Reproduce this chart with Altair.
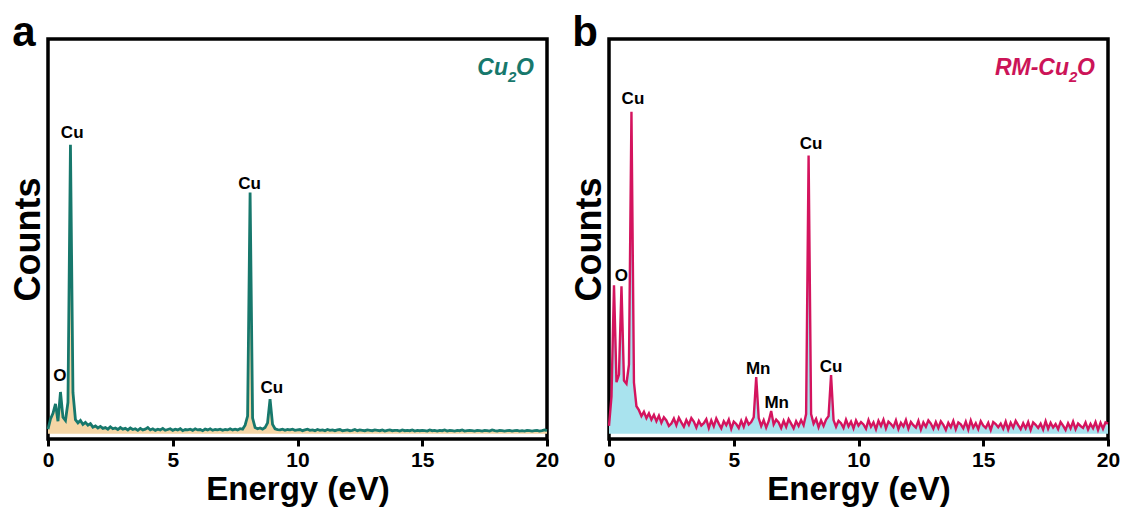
import altair as alt
import pandas as pd

# Energy sampling grid (keV shown as "eV" on the axis, as in the original)
energy = [i / 10 for i in range(201)]

# Panel a: Cu2O spectrum (relative counts)
counts_a = [
    1.2, 3.8, 5.2, 7.6, 3.2, 10.6, 4.2, 3.4, 8.0, 73.2,
    10.5, 3.6, 2.8, 3.4, 2.4, 2.9, 2.2, 2.6, 1.7, 2.0,
    1.5, 1.9, 1.4, 1.6, 1.2, 1.8, 1.3, 1.5, 1.1, 1.6,
    1.2, 1.4, 1.0, 1.5, 1.1, 1.3, 0.9, 1.4, 1.0, 1.2,
    1.6, 1.0, 1.3, 0.9, 1.2, 1.0, 1.4, 0.9, 1.1, 1.3,
    0.9, 1.2, 1.0, 1.3, 0.8, 1.1, 1.0, 1.2, 0.9, 1.3,
    1.0, 1.1, 0.8, 1.2, 1.0, 1.3, 0.9, 1.1, 1.0, 1.2,
    0.9, 1.1, 1.0, 1.3, 1.0, 1.2, 1.0, 1.3, 1.2, 2.2,
    4.5, 61.1, 4.0, 1.6, 1.3, 1.5, 1.2, 1.6, 2.8, 8.8,
    2.4, 1.3, 1.1, 1.0, 1.2, 0.9, 1.1, 1.0, 1.2, 0.9,
    1.0, 1.1, 0.8, 1.0, 1.2, 0.9, 1.0, 0.8, 1.1, 0.9,
    1.0, 0.8, 1.1, 0.9, 1.0, 0.8, 1.0, 1.1, 0.8, 0.9,
    1.0, 0.8, 0.9, 1.1, 0.8, 1.0, 0.9, 0.8, 1.0, 0.9,
    0.8, 1.0, 0.9, 0.8, 1.0, 0.7, 0.9, 1.0, 0.8, 0.9,
    0.9, 0.7, 1.0, 0.8, 0.9, 0.8, 1.0, 0.7, 0.9, 0.8,
    0.9, 0.8, 0.7, 1.0, 0.8, 0.9, 0.7, 0.9, 0.8, 1.0,
    0.7, 0.9, 0.8, 0.7, 0.9, 0.8, 1.0, 0.7, 0.8, 0.9,
    0.8, 0.7, 0.9, 0.8, 0.7, 0.9, 0.8, 0.7, 1.0, 0.8,
    0.7, 0.9, 0.8, 0.7, 0.8, 0.9, 0.7, 0.8, 0.9, 0.7,
    0.8, 0.7, 0.9, 0.8, 0.7, 0.8, 0.9, 0.7, 0.8, 1.0,
    0.8,
]

# Panel b: RM-Cu2O spectrum
counts_b = [
    2.0, 9.5, 37.6, 13.1, 15.0, 37.4, 13.5, 12.7, 17.5, 81.6,
    13.0, 7.0, 6.0, 4.5, 5.6, 4.0, 5.2, 3.6, 4.8, 3.2,
    4.6, 2.8, 4.2, 3.4, 2.0, 2.6, 3.9, 2.2, 4.1, 2.9,
    1.8, 3.5, 2.3, 4.0, 3.1, 1.6, 3.3, 2.1, 2.7, 3.7,
    1.5, 3.4, 1.9, 3.9, 2.6, 1.4, 3.2, 2.2, 3.6, 1.3,
    3.1, 2.5, 1.5, 3.3, 1.8, 3.8, 2.4, 3.0, 4.2, 14.4,
    4.0, 2.0, 3.5, 1.6, 3.2, 5.8, 2.4, 3.6, 2.9, 1.5,
    3.3, 1.8, 3.7, 2.6, 1.4, 3.2, 2.0, 3.5, 2.2, 5.0,
    70.5, 5.0, 2.6, 3.8, 1.7, 3.4, 2.0, 3.6, 4.5, 14.9,
    3.5, 1.8, 3.3, 2.7, 1.5, 3.6, 1.9, 3.1, 1.4, 3.4,
    2.1, 3.0, 2.4, 1.3, 3.5, 1.8, 2.9, 1.2, 3.3, 2.0,
    3.6, 1.4, 3.1, 2.5, 1.7, 3.4, 1.2, 2.8, 1.9, 3.5,
    1.3, 3.0, 2.2, 1.6, 3.3, 1.1, 2.9, 1.8, 3.4, 2.6,
    1.3, 3.0, 1.5, 3.2, 2.3, 1.0, 2.8, 1.7, 3.3, 1.2,
    2.9, 2.4, 1.4, 3.1, 1.1, 3.4, 1.6, 2.7, 1.2, 3.2,
    2.1, 1.5, 2.8, 1.0, 3.0, 2.5, 1.7, 2.6, 1.3, 3.1,
    1.1, 2.8, 1.6, 3.3, 2.2, 1.2, 2.7, 1.4, 3.0, 1.0,
    2.9, 2.3, 1.5, 2.6, 1.1, 3.2, 1.3, 2.8, 1.6, 2.5,
    1.2, 3.0, 2.1, 1.0, 2.7, 1.4, 3.1, 1.2, 2.6, 2.0,
    1.5, 2.9, 1.1, 2.5, 1.4, 3.0, 1.0, 2.8, 1.3, 2.9,
    2.6,
]

# Peak annotations
labels_a = ["Cu", "O", "Cu", "Cu"]
label_x_a = [0.97, 0.48, 8.08, 8.97]
label_y_a = [76.2, 14.7, 63.3, 11.5]

labels_b = ["O", "Cu", "Mn", "Mn", "Cu", "Cu"]
label_x_b = [0.5, 0.96, 5.98, 6.72, 8.1, 8.9]
label_y_b = [39.9, 84.8, 16.4, 7.8, 73.5, 16.9]

xticks = [0, 5, 10, 15, 20]

FONT = "Liberation Sans"
W, H = 499, 400


def panel(counts, labels, lx, ly, line_color, line_width, fill_color, title_main, title_color, letter):
    df = pd.DataFrame({"energy": energy, "counts": counts})
    lab = pd.DataFrame({"label": labels, "x": lx, "y": ly})

    x = alt.X(
        "energy:Q",
        scale=alt.Scale(domain=[0, 20], nice=False, zero=False),
        axis=alt.Axis(
            values=xticks, format="d", title="Energy (eV)",
            labelFont=FONT, labelFontSize=21, labelFontWeight="bold", labelColor="black",
            labelPadding=3, labelFlush=False,
            tickSize=7, tickWidth=3, tickColor="black",
            domain=False, grid=False,
            titleFont=FONT, titleFontSize=33, titleFontWeight="bold", titleColor="black",
            titlePadding=3,
        ),
    )
    y = alt.Y(
        "counts:Q",
        scale=alt.Scale(domain=[-1.3, 100], nice=False, zero=False),
        axis=alt.Axis(
            title="Counts", labels=False, ticks=False, domain=False, grid=False,
            titleFont=FONT, titleFontSize=36, titleFontWeight="bold", titleColor="black",
            titlePadding=1,
        ),
    )

    base = alt.Chart(df)
    area = base.mark_area(color=fill_color, opacity=1).encode(x=x, y=y, y2=alt.datum(0))
    line = base.mark_line(color=line_color, strokeWidth=line_width).encode(x=x, y=y)

    peaks = alt.Chart(lab).mark_text(
        font=FONT, fontSize=17, fontWeight="bold", color="black", baseline="middle"
    ).encode(
        x=alt.X("x:Q", scale=alt.Scale(domain=[0, 20], nice=False, zero=False)),
        y=alt.Y("y:Q", scale=alt.Scale(domain=[-1.3, 100], nice=False, zero=False)),
        text="label:N",
    )

    t_main = alt.Chart(pd.DataFrame({"t": [title_main]})).mark_text(
        font=FONT, fontSize=23, fontWeight="bold", fontStyle="italic",
        color=title_color, align="right", baseline="alphabetic",
    ).encode(x=alt.value(460), y=alt.value(36), text="t:N")
    t_sub = alt.Chart(pd.DataFrame({"t": ["2"]})).mark_text(
        font=FONT, fontSize=15, fontWeight="bold", fontStyle="italic",
        color=title_color, align="left", baseline="alphabetic",
    ).encode(x=alt.value(460), y=alt.value(43), text="t:N")
    t_o = alt.Chart(pd.DataFrame({"t": ["O"]})).mark_text(
        font=FONT, fontSize=23, fontWeight="bold", fontStyle="italic",
        color=title_color, align="left", baseline="alphabetic",
    ).encode(x=alt.value(468), y=alt.value(36), text="t:N")

    let = alt.Chart(pd.DataFrame({"t": [letter]})).mark_text(
        font=FONT, fontSize=42, fontWeight="bold", color="black",
        align="center", baseline="alphabetic",
    ).encode(x=alt.value(-24), y=alt.value(7), text="t:N")

    return alt.layer(area, line, peaks, t_main, t_sub, t_o, let).properties(width=W, height=H)


pa = panel(counts_a, labels_a, label_x_a, label_y_a, "#17786c", 2.8, "#f5d6a6", "Cu", "#17786c", "a")
pb = panel(counts_b, labels_b, label_x_b, label_y_b, "#d4145e", 2.4, "#a9e3ee", "RM-Cu", "#cc1458", "b")

chart = alt.hconcat(pa, pb, spacing=8).properties(
    padding={"left": 8, "top": 10, "right": 0, "bottom": 0},
    background="white",
).configure_view(stroke="black", strokeWidth=3.5)

chart.save("out.html", embed_options={"renderer": "svg", "actions": False})
